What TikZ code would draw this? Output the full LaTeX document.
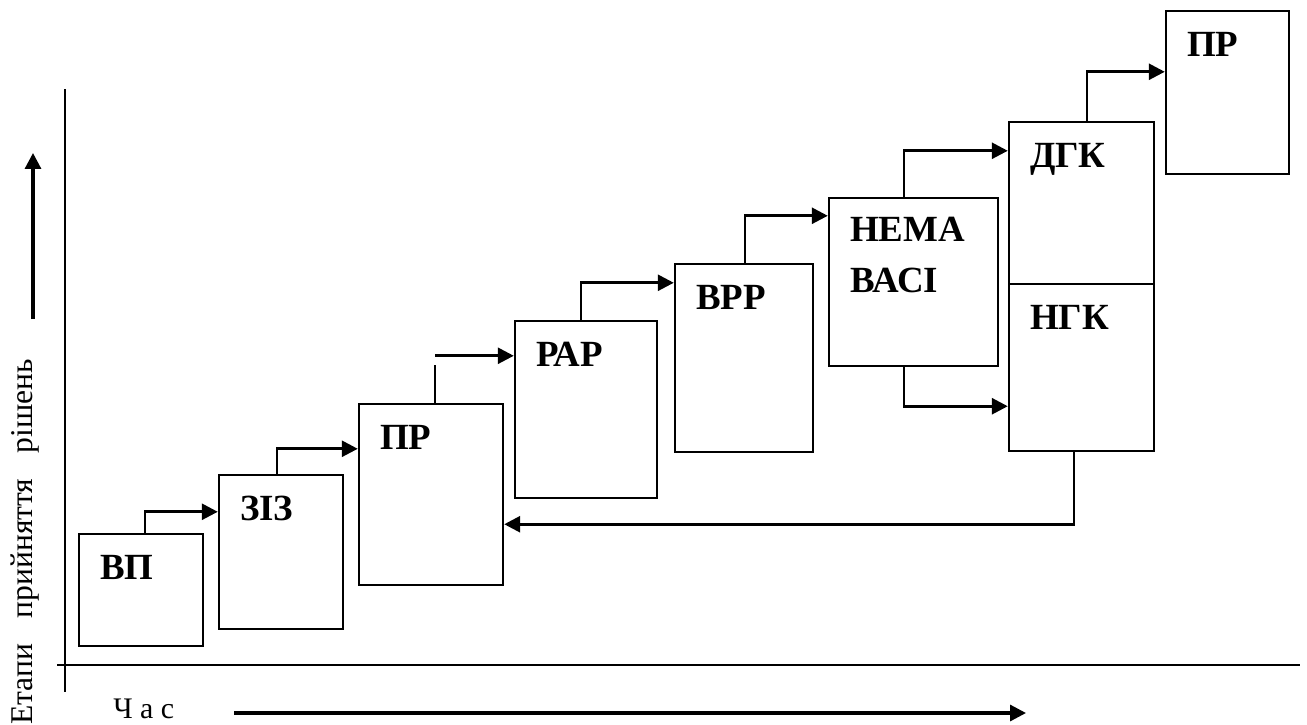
\documentclass[tikz,border=0pt]{standalone}
\usepackage{fontspec}
\setmainfont{Liberation Serif}
\usetikzlibrary{arrows.meta,calc}
\newcommand{\stagefont}{\fontsize{21}{29}\selectfont\bfseries}

\begin{document}
\begin{tikzpicture}[x=0.02cm,y=-0.02cm,
    stage/.style={draw,line width=1.4pt,inner sep=0pt},
    stagetext/.style={anchor=base west,inner sep=0pt,align=left,font=\stagefont},
    link/.style={line width=1.6pt},
    arr/.style={line width=1.6pt,-{Triangle[length=9pt,width=9pt]}},
    axis/.style={line width=1.2pt}]
    \useasboundingbox (0,0) rectangle (1307,724);
    % axes
    \coordinate (ytop) at (65,89);
    \coordinate (ybot) at (65,692);
    \coordinate (xleft) at (57,665);
    \coordinate (xright) at (1300,665);
    \draw[axis] (ytop) -- (ybot);
    \draw[axis] (xleft) -- (xright);
    \coordinate (upfrom) at (33,319);
    \coordinate (upto) at (33,153);
    \draw[arr,line width=1.8pt] (upfrom) -- (upto);
    \coordinate (timefrom) at (234,713);
    \coordinate (timeto) at (1026,713);
    \draw[arr,line width=1.8pt] (timefrom) -- (timeto);
    \node[rotate=90,anchor=base west,inner sep=0pt,font=\fontsize{18}{20}\selectfont] (ylabel) at (32,725)
      {Етапи\hspace{0.8em}прийняття\hspace{0.8em}рішень};
    \node[anchor=base west,inner sep=0pt,font=\fontsize{17}{20}\selectfont] (xlabel) at (113,718) {Ч а с};
    % stages
    \foreach \n/\cx/\cy/\w/\h/\dy/\txt in {
      vp/141/590/124/112/47/ВП,
      ziz/281/552/124/154/47/ЗІЗ,
      pr1/431/494.5/144/181/47/ПР,
      rar/586/409.5/142/177/47/РАР,
      vrr/744/358/138/188/47/ВРР,
      nema/913.5/282/169/168/96/НЕМА\\ВАСІ,
      dgk/1081.5/203/145/162/47/ДГК,
      ngk/1081.5/367.5/145/167/47/НГК,
      pr2/1227.5/92.5/123/163/47/ПР
    } {
      \node[stage,minimum width=\w*0.02cm,minimum height=\h*0.02cm] (\n) at (\cx,\cy) {};
      \node[stagetext] (\n-t) at ($(\n.north west)+(22,\dy)$) {\txt};
    }
    % links
    \draw[arr] ($(vp.north)+(4,0)$) |- ($(ziz.north west)+(0,38)$);
    \draw[arr] ($(ziz.north)+(-4,0)$) |- ($(pr1.north west)+(0,46)$);
    \draw[link] ($(pr1.north)+(4,0)$) -- ++(0,-38);
    \draw[arr] ($(pr1.north)+(4,-47)$) -- ($(rar.north west)+(0,36)$);
    \draw[arr] ($(rar.north)+(-5,0)$) |- ($(vrr.north west)+(0,20)$);
    \draw[arr] ($(vrr.north)+(1,0)$) |- ($(nema.north west)+(0,19)$);
    \draw[arr] ($(nema.north)+(-9.5,0)$) |- ($(dgk.north west)+(0,30)$);
    \draw[arr] ($(nema.south)+(-9.5,0)$) |- ($(ngk.south west)+(0,-46)$);
    \draw[arr] ($(dgk.north)+(5.5,0)$) |- ($(pr2.north west)+(0,62)$);
    \draw[arr] ($(ngk.south)+(-7.5,0)$) |- ($(pr1.south east)+(0,-62)$);
  \end{tikzpicture}
\end{document}
